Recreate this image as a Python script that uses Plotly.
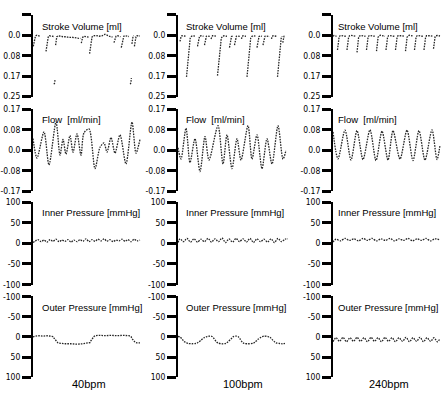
import plotly.graph_objects as go

# ---------------- tick labels ----------------
sv_tickvals = [-1/12, 0.0, 1/12, 2/12, 3/12]
sv_ticktext = ["", "0.0", "0.08", "0.17", "0.25"]
flow_tickvals = [-2/12, -1/12, 0.0, 1/12, 2/12]
flow_ticktext = ["-0.17", "-0.08", "0.0", "0.08", "0.17"]
press_tickvals = [-100, -50, 0, 50, 100]
press_ticktext = ["-100", "-50", "0", "50", "100"]

panel_titles = ["Stroke Volume [ml]", "Flow\u00a0 [ml/min]", "Inner Pressure [mmHg]", "Outer Pressure [mmHg]"]
rate_labels = ["40bpm", "100bpm", "240bpm"]

# ---------------- 40 bpm ----------------
sv40_t = [[0.3, 0.8, 1.2, 1.7, 2.5, 4, 6, 7.5],
          [13, 13.5, 14, 14.5, 15.3, 16.5, 18.5, 20.5],
          [21, 21.6, 22.1],
          [22.6, 23.1, 23.8, 25, 27, 30, 33, 36, 39, 42, 45, 47.5],
          [48.3, 48.9, 49.6, 50.6, 52, 54, 56],
          [56.6, 57.1, 57.6, 58.2, 59, 60.5, 63, 66, 69, 72, 75, 77, 79.5],
          [81, 81.5, 82.1, 83, 84.5, 86, 87.5],
          [88.3, 88.8, 89.4, 90, 90.8, 92, 94, 96],
          [97.3, 97.9, 98.4],
          [98.9, 99.4, 100, 100.8],
          [101.4, 101.9, 102.4, 103, 104, 105.5, 107]]
sv40_v = [[0.045, 0.034, 0.02, 0.008, 0.002, 0.0, 0.002, 0.004],
          [0.066, 0.05, 0.032, 0.016, 0.006, 0.002, 0.003, 0.005],
          [0.2, 0.195, 0.18],
          [0.04, 0.018, 0.006, 0.002, 0.004, 0.006, 0.006, 0.009, 0.008, 0.011, 0.012, 0.013],
          [0.032, 0.02, 0.009, 0.004, 0.005, 0.006, 0.008],
          [0.075, 0.055, 0.035, 0.018, 0.007, 0.002, 0.001, 0.004, 0.002, -0.004, 0.003, 0.005, 0.007],
          [0.03, 0.02, 0.01, 0.004, 0.002, 0.004, 0.006],
          [0.05, 0.038, 0.022, 0.01, 0.004, 0.002, 0.003, 0.005],
          [0.2, 0.193, 0.175],
          [0.035, 0.018, 0.006, 0.002],
          [0.045, 0.03, 0.015, 0.006, 0.002, 0.002, 0.003]]

flow40_t = [0, 4, 11, 16, 23, 27, 30, 33, 37, 40, 44, 48, 51, 56, 62, 67, 71, 74, 78, 82, 87, 93, 99, 103, 107]
flow40_v = [0.048, -0.032, 0.075, -0.06, 0.115, -0.02, 0.044, -0.016, 0.06, -0.008, 0.067, -0.02, 0.071,
            0.087, -0.075, 0.012, 0.03, -0.008, 0.052, -0.012, 0.063, -0.056, 0.115, -0.012, 0.044]

inner40_t = [0, 2, 5, 8, 11, 14, 17, 20, 23, 26, 29, 32, 35, 38, 41, 44, 47, 50, 53, 56, 59, 62, 65, 68,
             71, 74, 77, 80, 83, 86, 89, 92, 95, 98, 101, 104, 107]
inner40_v = [2, 5, 9, 4, 8, 3, 9, 5, 10, 4, 8, 5, 9, 3, 8, 4, 9, 5, 11, 4, 9, 5, 10, 6, 11, 5, 9, 4, 8, 6,
             10, 5, 9, 4, 10, 6, 8]

outer40_t = [0, 2, 6, 10, 14, 18, 20, 21, 22, 23, 24, 25, 27, 32, 38, 44, 50, 55, 57, 58, 59, 60, 61, 62,
             66, 72, 78, 84, 90, 96, 98, 99, 100, 101, 102, 104, 107]
outer40_v = [0, -2, -3, -2, -3, -2, -1, 3, 7, 8, 12, 15, 16, 17, 17, 18, 17, 16, 14, 9, 5, 2, -1, -3,
             -4, -3, -4, -3, -4, -3, -1, 4, 8, 11, 13, 15, 15]

# ---------------- 100 bpm ----------------
sv100_t = [[2, 2.5, 3, 4, 6, 8],
           [8.5, 9, 9.5, 10, 10.5, 11, 11.5, 12.2, 13.5, 15, 17.5],
           [19.5, 20, 20.6, 21.5, 23, 25.5],
           [26.5, 27, 27.6, 28.4, 30, 32],
           [33, 33.6, 34.5, 36, 38.5],
           [39.5, 40, 40.5, 41, 41.5, 42, 42.6, 43.3, 44.5, 46, 49],
           [51.5, 52, 52.6, 53.5, 55],
           [56.5, 57, 57.6, 58.4, 60, 62.5],
           [63.5, 64, 65, 66.5, 68],
           [69, 69.5, 70, 70.5, 71, 71.5, 72, 72.7, 74, 75.5, 77.5],
           [79, 79.5, 80.1, 81, 82.5, 84],
           [85, 85.5, 86.1, 87, 88.5, 91.5],
           [93.5, 94, 95, 96.5, 98.5],
           [99.5, 100, 100.5, 101, 101.5, 102, 102.5, 103.2, 104.2],
           [104.8, 105.3, 106, 107.5]]
sv100_v = [[0.025, 0.015, 0.006, 0.002, 0.003, 0.004],
           [0.17, 0.15, 0.12, 0.095, 0.075, 0.05, 0.03, 0.012, 0.004, 0.002, 0.004],
           [0.045, 0.03, 0.014, 0.004, 0.002, 0.004],
           [0.04, 0.026, 0.012, 0.004, 0.003, 0.005],
           [0.015, 0.006, 0.002, 0.002, 0.004],
           [0.165, 0.145, 0.12, 0.09, 0.07, 0.05, 0.03, 0.012, 0.004, 0.002, 0.004],
           [0.05, 0.034, 0.016, 0.005, 0.003],
           [0.04, 0.026, 0.012, 0.004, 0.003, 0.005],
           [0.015, 0.006, 0.002, 0.003, 0.004],
           [0.17, 0.15, 0.12, 0.095, 0.07, 0.05, 0.03, 0.012, 0.004, 0.002, 0.004],
           [0.05, 0.034, 0.016, 0.005, 0.003, 0.004],
           [0.04, 0.026, 0.012, 0.004, 0.003, 0.005],
           [0.015, 0.006, 0.002, 0.003, 0.004],
           [0.17, 0.15, 0.12, 0.09, 0.07, 0.05, 0.03, 0.012, 0.004],
           [0.03, 0.012, 0.004, 0.003]]

flow100_t = [0, 3, 8, 12, 17, 22, 27, 31, 40, 45, 49, 54, 59, 63, 70, 74, 79, 84, 89, 94, 100, 105, 108]
flow100_v = [0.01, -0.036, 0.09, -0.05, 0.047, -0.087, 0.056, -0.04, 0.1, -0.056, 0.063, -0.075, 0.047,
             -0.04, 0.1, -0.036, 0.063, -0.075, 0.047, -0.056, 0.1, -0.036, 0.0]

inner100_t = [0, 2, 5.5, 9, 12.5, 16, 19.5, 23, 26.5, 30, 33.5, 37, 40.5, 44, 47.5, 51, 54.5, 58, 61.5, 65,
              68.5, 72, 75.5, 79, 82.5, 86, 89.5, 93, 96.5, 100, 103.5, 107, 110]
inner100_v = [2, 11, 4, 12, 3, 11, 3, 10, 4, 12, 3, 11, 4, 13, 2, 11, 3, 12, 4, 11, 3, 12, 2, 11, 4, 10,
              3, 11, 2, 12, 4, 10, 11]

outer100_t = [0, 2, 4, 6, 8, 10, 14, 18, 20, 23, 26, 29, 32, 34, 36, 38, 40, 44, 48, 50, 53, 55, 58, 60,
              62, 64, 66, 70, 75, 77, 80, 83, 86, 90, 92, 94, 96, 98, 101, 104, 107]
outer100_v = [-1, 0, 5, 11, 14, 16, 17, 16, 14, 8, 2, -1, -2, -1, 4, 11, 15, 17, 16, 12, 5, 0, -2, -1,
              5, 12, 16, 17, 16, 13, 6, 1, -2, -1, 1, 6, 11, 15, 16, 17, 16]

# ---------------- 240 bpm ----------------
sv240_t = [[0, 1, 2, 3.5],
           [4.5, 5, 5.5, 6.1, 7, 8.5, 10.5, 13],
           [14, 14.5, 15, 15.6, 16.5, 18, 20.5, 23],
           [24, 24.5, 25, 25.6, 26.5, 28, 30.5, 32.5],
           [33.5, 34, 34.5, 35.1, 36, 37.5, 40, 42.5],
           [43.5, 44, 44.5, 45.1, 46, 47.5, 50, 52],
           [53, 53.5, 54, 54.6, 55.5, 57, 59.5, 61.5],
           [62.5, 63, 63.5, 64.1, 65, 66.5, 69, 71.5],
           [72.5, 73, 73.5, 74.1, 75, 76.5, 79, 80.5],
           [81.5, 82, 82.5, 83.1, 84, 85.5, 88, 90],
           [91, 91.5, 92, 92.6, 93.5, 95, 97.5, 99.5],
           [100.5, 101, 101.5, 102.1, 103, 104.5, 107]]
sv240_v = [[0.004, 0.001, 0.002, 0.004],
           [0.06, 0.04, 0.02, 0.007, 0.002, 0.001, 0.003, 0.004],
           [0.06, 0.041, 0.021, 0.008, 0.002, 0.0, 0.002, 0.004],
           [0.07, 0.047, 0.024, 0.009, 0.003, 0.001, 0.003, 0.004],
           [0.06, 0.04, 0.02, 0.007, 0.002, 0.001, 0.003, 0.004],
           [0.065, 0.044, 0.022, 0.008, 0.002, 0.0, 0.002, 0.004],
           [0.06, 0.04, 0.02, 0.007, 0.002, 0.001, 0.003, 0.004],
           [0.06, 0.041, 0.021, 0.008, 0.002, 0.001, 0.002, 0.004],
           [0.065, 0.044, 0.022, 0.008, 0.002, 0.0, 0.002, 0.004],
           [0.06, 0.04, 0.02, 0.007, 0.002, 0.001, 0.003, 0.004],
           [0.06, 0.041, 0.021, 0.008, 0.002, 0.001, 0.002, 0.004],
           [0.055, 0.037, 0.018, 0.006, 0.002, 0.001, 0.003]]

flow240_t = [0, 5, 12, 18, 24, 30, 37, 43, 49, 55, 60, 67, 74, 80, 86, 92, 99, 104, 107]
flow240_v = [0.075, -0.035, 0.082, -0.04, 0.08, -0.038, 0.083, -0.042, 0.078, -0.04, 0.08, -0.036,
             0.082, -0.042, 0.08, -0.04, 0.083, -0.038, 0.02]

inner240_t = [0, 3, 7.5, 12, 16.5, 21, 25.5, 30, 34.5, 39, 43.5, 48, 52.5, 57, 61.5, 66, 70.5, 75, 79.5,
              84, 88.5, 93, 97.5, 102, 106.5]
inner240_v = [3, 10, 6, 12, 7, 11, 6, 12, 7, 12, 6, 11, 7, 12, 6, 11, 7, 12, 6, 11, 7, 12, 6, 11, 9]

outer240_t = [0, 3, 6.5, 10, 13.5, 17, 20.5, 24, 27.5, 31, 34.5, 38, 41.5, 45, 48.5, 52, 55.5, 59, 62.5,
              66, 69.5, 73, 76.5, 80, 83.5, 87, 90.5, 94, 97.5, 101, 104.5, 107]
outer240_v = [12, 2, 11, 1, 12, 2, 11, 1, 11, 2, 12, 1, 11, 2, 12, 1, 11, 2, 12, 2, 11, 1, 12, 2, 11, 1,
              12, 2, 11, 2, 12, 4]

# ---------------- layout geometry (pixels in a 443x397 canvas) ----------------
W, H = 443, 397
col_px = [(33, 141), (178, 292), (333, 441)]
col_range = [[0, 108], [0, 114], [0, 108]]
row_px = [(10, 94), (107, 191), (202, 287), (299, 382)]
row_range = [[0.2505, -0.0838], [-0.1672, 0.1672], [-100.5, 100.5], [100.5, -100.5]]
row_ticks = [(sv_tickvals, sv_ticktext), (flow_tickvals, flow_ticktext),
             (press_tickvals, press_ticktext), (press_tickvals, press_ticktext)]
title_y_px = [22, 117, 213, 310]
title_x_px = [40, 184, 336]

series = [
    [("seg", sv40_t, sv40_v, "linear"), ("seg", sv100_t, sv100_v, "linear"), ("seg", sv240_t, sv240_v, "linear")],
    [("line", flow40_t, flow40_v, "spline"), ("line", flow100_t, flow100_v, "spline"), ("line", flow240_t, flow240_v, "spline")],
    [("line", inner40_t, inner40_v, "spline"), ("line", inner100_t, inner100_v, "spline"), ("line", inner240_t, inner240_v, "spline")],
    [("line", outer40_t, outer40_v, "linear"), ("line", outer100_t, outer100_v, "spline"), ("line", outer240_t, outer240_v, "spline")],
]

FONT = "Liberation Sans Narrow, DejaVu Sans Condensed, Liberation Sans, Arial, sans-serif"
TXT = "Liberation Sans, Arial, sans-serif"

fig = go.Figure()
layout = dict(width=W, height=H, margin=dict(l=0, r=0, t=0, b=0), paper_bgcolor="white",
              plot_bgcolor="rgba(0,0,0,0)", showlegend=False, annotations=[])

for r in range(4):
    for c in range(3):
        n = r * 3 + c + 1
        kind, t, v, shape = series[r][c]
        if kind == "seg":
            xs, ys = [], []
            for st, sv in zip(t, v):
                xs += list(st) + [None]
                ys += list(sv) + [None]
        else:
            xs, ys = t, v
        fig.add_trace(go.Scatter(
            x=xs, y=ys, mode="lines", xaxis=f"x{n}", yaxis=f"y{n}",
            line=dict(color="#262626", width=1.3, dash="1.6px,1.1px", shape=shape,
                      smoothing=0.8 if shape == "spline" else None),
            connectgaps=False, hoverinfo="skip"))
        x0, x1 = col_px[c]
        y0, y1 = row_px[r]
        tv, tt = row_ticks[r]
        layout[f"xaxis{n}"] = dict(domain=[x0 / W, x1 / W], range=col_range[c], visible=False,
                                   anchor=f"y{n}", fixedrange=True)
        layout[f"yaxis{n}"] = dict(domain=[1 - y1 / H, 1 - y0 / H], range=row_range[r], anchor=f"x{n}",
                                   showline=True, linewidth=2, linecolor="black",
                                   ticks="outside", ticklen=9, tickwidth=2.5, tickcolor="black",
                                   tickvals=tv, ticktext=tt, showgrid=False, zeroline=False,
                                   tickfont=dict(family=FONT, size=8.5, color="black"), fixedrange=True)
        layout["annotations"].append(dict(
            text=panel_titles[r], x=title_x_px[c] / W, y=1 - title_y_px[r] / H,
            xref="paper", yref="paper", xanchor="left", yanchor="middle", showarrow=False,
            font=dict(family=TXT, size=9.5, color="black")))

rate_x_px = [89, 243, 389]
for c in range(3):
    layout["annotations"].append(dict(
        text=rate_labels[c], x=rate_x_px[c] / W, y=1 - 389 / H, xref="paper", yref="paper",
        xanchor="center", yanchor="middle", showarrow=False,
        font=dict(family=TXT, size=11, color="black")))

fig.update_layout(**layout)
fig.write_html("out.html", config={"displayModeBar": False},
               post_script="document.body.style.margin='0';document.body.style.overflow='hidden';")
